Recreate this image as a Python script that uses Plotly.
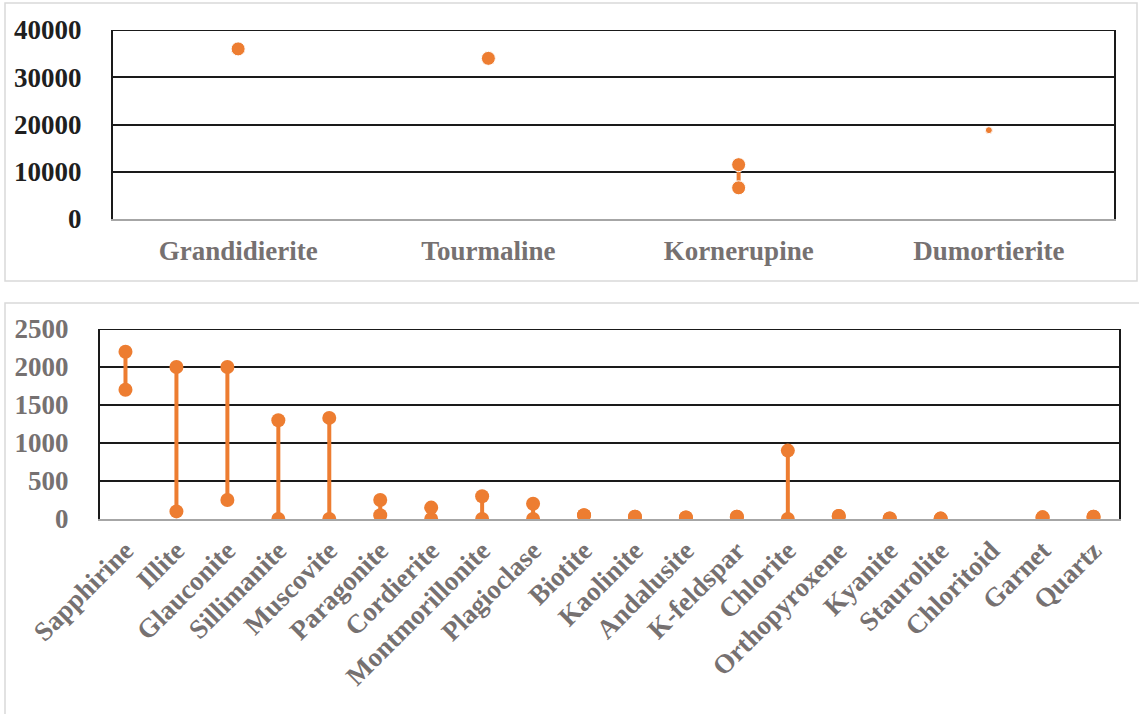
import plotly.graph_objects as go

# Upper panel: high-concentration boron minerals
top_minerals = ["Grandidierite", "Tourmaline", "Kornerupine", "Dumortierite"]
top_low = [36000, 34000, 6600, 18800]
top_high = [36000, 34000, 11500, 18800]
top_ticks = [0, 10000, 20000, 30000, 40000]

# Lower panel: minerals with lower boron contents
bottom_minerals = [
    "Sapphirine", "Illite", "Glauconite", "Sillimanite", "Muscovite",
    "Paragonite", "Cordierite", "Montmorillonite", "Plagioclase", "Biotite",
    "Kaolinite", "Andalusite", "K-feldspar", "Chlorite", "Orthopyroxene",
    "Kyanite", "Staurolite", "Chloritoid", "Garnet", "Quartz",
]
bottom_low = [1700, 100, 250, 0, 0, 50, 0, 0, 0, 50,
              30, 20, 30, 0, 40, 8, 5, None, 22, 30]
bottom_high = [2200, 2000, 2000, 1300, 1330, 250, 150, 300, 200, 50,
               30, 20, 30, 900, 40, 8, 5, None, 22, 30]
bottom_ticks = [0, 500, 1000, 1500, 2000, 2500]

ORANGE = "#ED7D31"
GREY_TEXT = "#767171"
DARK_TEXT = "#1F1F1F"
GRID = "#1A1A1A"
FONT = "Liberation Serif, Times New Roman, serif"
W, H = 1139, 714


def range_segments(cats, lows, highs):
    xs, ys = [], []
    for c, lo, hi in zip(cats, lows, highs):
        if lo is None or hi is None:
            continue
        xs += [c, c, None]
        ys += [lo, hi, None]
    return xs, ys


def px_x(p):
    return p / W


def px_y(p):
    return 1 - p / H


fig = go.Figure()

# upper panel range bars
tx, ty = range_segments(top_minerals, top_low, top_high)
small = {"Dumortierite": 7}
top_sizes = []
for c, lo, hi in zip(top_minerals, top_low, top_high):
    s = small.get(c, 14)
    top_sizes += [s, s, 0]
fig.add_trace(go.Scatter(
    x=tx, y=ty, xaxis="x", yaxis="y", mode="lines+markers",
    line=dict(color=ORANGE, width=4),
    marker=dict(color=ORANGE, size=top_sizes, opacity=1),
    showlegend=False, connectgaps=False, hoverinfo="skip",
))

# lower panel range bars
bx, by = range_segments(bottom_minerals, bottom_low, bottom_high)
fig.add_trace(go.Scatter(
    x=bx, y=by, xaxis="x2", yaxis="y2", mode="lines+markers",
    line=dict(color=ORANGE, width=4),
    marker=dict(color=ORANGE, size=14, opacity=1),
    showlegend=False, connectgaps=False, hoverinfo="skip",
))

axis_font_dark = dict(family=FONT, size=27, color=DARK_TEXT, weight="bold")
axis_font_grey = dict(family=FONT, size=27, color=GREY_TEXT, weight="bold")

fig.update_layout(
    width=W, height=H,
    margin=dict(l=0, r=0, t=0, b=0),
    paper_bgcolor="white", plot_bgcolor="white",
    xaxis=dict(
        domain=[px_x(113), px_x(1114)], anchor="y", automargin=False,
        type="category", categoryorder="array", categoryarray=top_minerals,
        range=[-0.5, len(top_minerals) - 0.5],
        showgrid=False, zeroline=False,
        showline=True, linecolor="#A6A6A6", linewidth=2,
        ticks="", tickfont=axis_font_grey, ticklabelstandoff=7,
    ),
    yaxis=dict(
        domain=[px_y(219), px_y(30)], anchor="x", automargin=False,
        range=[0, 40000], tickvals=top_ticks, tickformat="d",
        showgrid=True, gridcolor=GRID, gridwidth=2,
        zeroline=False,
        showline=True, linecolor=GRID, linewidth=2, mirror=True,
        ticks="", tickfont=axis_font_dark, ticklabelstandoff=24,
    ),
    xaxis2=dict(
        domain=[px_x(100), px_x(1119)], anchor="y2", automargin=False,
        type="category", categoryorder="array", categoryarray=bottom_minerals,
        range=[-0.5, len(bottom_minerals) - 0.5],
        showgrid=False, zeroline=False,
        showline=True, linecolor="#A6A6A6", linewidth=2,
        ticks="", tickangle=-45, tickfont=axis_font_grey,
        ticklabelstandoff=3,
    ),
    yaxis2=dict(
        domain=[px_y(519), px_y(329)], anchor="x2", automargin=False,
        range=[0, 2500], tickvals=bottom_ticks, tickformat="d",
        showgrid=True, gridcolor=GRID, gridwidth=2,
        zeroline=False,
        showline=True, linecolor=GRID, linewidth=2, mirror=True,
        ticks="", tickfont=axis_font_grey, ticklabelstandoff=24,
    ),
    shapes=[
        # light frames around each panel
        dict(type="rect", xref="paper", yref="paper",
             x0=px_x(5), x1=px_x(1137), y0=px_y(281), y1=px_y(3),
             line=dict(color="#D9D9D9", width=1.5), layer="below"),
        dict(type="rect", xref="paper", yref="paper",
             x0=px_x(5), x1=px_x(1145), y0=px_y(730), y1=px_y(303),
             line=dict(color="#D9D9D9", width=1.5), layer="below"),
        # gridline at the top tick of each panel
        dict(type="line", xref="x domain", yref="y",
             x0=0, x1=1, y0=top_ticks[-1], y1=top_ticks[-1],
             line=dict(color=GRID, width=2), layer="below"),
        dict(type="line", xref="x2 domain", yref="y2",
             x0=0, x1=1, y0=bottom_ticks[-1], y1=bottom_ticks[-1],
             line=dict(color=GRID, width=2), layer="below"),
    ],
)

fig.write_html("out.html")
